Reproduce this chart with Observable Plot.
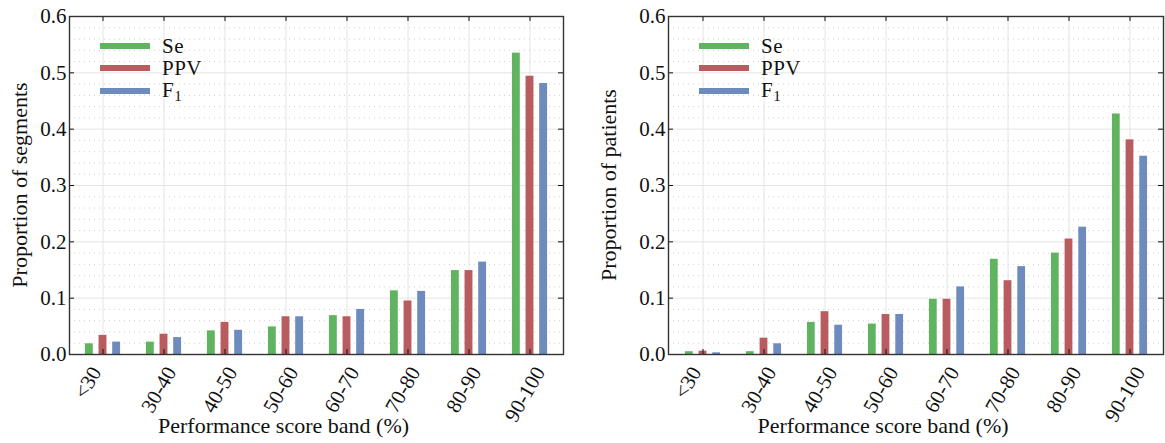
<!DOCTYPE html>
<html><head><meta charset="utf-8">
<script src="https://cdn.jsdelivr.net/npm/d3@7"></script>
<script src="https://cdn.jsdelivr.net/npm/@observablehq/plot@0.6"></script>
<style>
body{margin:0;background:#fff;}
#wrap{position:relative;width:1165px;height:443px;font-family:"Liberation Serif",serif;overflow:hidden;}
.panel{position:absolute;top:0;}
.leg{position:absolute;font-size:21px;line-height:20px;letter-spacing:0.5px;color:#111;white-space:nowrap;}
.sw{position:absolute;height:6px;width:50px;}
.ylab{position:absolute;font-size:22px;line-height:22px;color:#111;white-space:nowrap;transform:translate(-50%,-50%) rotate(-90deg);}
</style></head><body><div id="wrap"></div>
<script>
// ---- data ----
const categories = ["<30", "30-40", "40-50", "50-60", "60-70", "70-80", "80-90", "90-100"];
const seriesNames = ["Se", "PPV", "F1"];
const colors = ["#60b460", "#b85c5f", "#6d8bbd"];
const yTicks = [0, 0.1, 0.2, 0.3, 0.4, 0.5, 0.6];
const yMinorTicks = [0.02,0.04,0.06,0.08,0.12,0.14,0.16,0.18,0.22,0.24,0.26,0.28,0.32,0.34,0.36,0.38,0.42,0.44,0.46,0.48,0.52,0.54,0.56,0.58];
const xLabel = "Performance score band (%)";

// Left: proportion of segments
const segSe  = [0.019, 0.022, 0.042, 0.049, 0.069, 0.113, 0.149, 0.535];
const segPPV = [0.034, 0.036, 0.057, 0.067, 0.067, 0.095, 0.149, 0.494];
const segF1  = [0.022, 0.030, 0.043, 0.067, 0.080, 0.112, 0.164, 0.481];

// Right: proportion of patients
const patSe  = [0.005, 0.005, 0.057, 0.054, 0.098, 0.169, 0.180, 0.427];
const patPPV = [0.006, 0.029, 0.076, 0.071, 0.098, 0.131, 0.205, 0.381];
const patF1  = [0.003, 0.019, 0.052, 0.071, 0.120, 0.156, 0.226, 0.352];

const FONT = '"Liberation Serif", serif';
const FS = 21;
const ctx = document.createElement("canvas").getContext("2d");
ctx.font = `${FS}px "Liberation Serif"`;
const textW = s => ctx.measureText(s).width;

function panel({se, ppv, f1, width, marginLeft, marginRight}) {
  const marginTop = 16, marginBottom = 89, height = 443;
  const plotW = width - marginLeft - marginRight, plotH = height - marginTop - marginBottom;
  const step = plotW / categories.length;
  const barW = 0.14 * step, inset = (step - barW) / 2, off = 0.221 * step;
  const rows = vals => categories.map((c, i) => ({cat: c, v: vals[i]}));
  const bars = [[se, colors[0], -off], [ppv, colors[1], 0], [f1, colors[2], off]].map(([vals, col, dx]) =>
    Plot.barY(rows(vals), {x: "cat", y: "v", fill: col, insetLeft: inset, insetRight: inset, dx}));
  // rotated tick labels, each label's box centred near its tick
  const tickLabels = categories.map(c =>
    Plot.text([c], {x: d => d, text: d => d, frameAnchor: "bottom", rotate: -60, textAnchor: "end", lineAnchor: "middle",
      dx: 0.25 * textW(c) - 5 - (c.startsWith("<") ? 10 : 0), dy: 14, fontSize: FS, fontFamily: FONT}));
  return Plot.plot({
    width, height, marginLeft, marginRight, marginTop, marginBottom,
    style: `font-family: ${FONT}; font-size: ${FS}px; background: white; color: #111; overflow: visible;`,
    x: {type: "band", domain: categories, padding: 0, axis: null},
    y: {domain: [0, 0.6], axis: null},
    marks: [
      Plot.ruleY(yMinorTicks, {stroke: "#cfcfcf", strokeDasharray: "1,4"}),
      Plot.ruleY(yTicks, {stroke: "#e4e4e4"}),
      Plot.ruleX(categories, {x: d => d, stroke: "#e4e4e4"}),
      ...bars,
      Plot.ruleX(categories, {x: d => d, stroke: "#111", insetTop: plotH - 5}),
      Plot.ruleX(categories, {x: d => d, stroke: "#111", insetBottom: plotH - 5}),
      Plot.ruleY(yTicks, {stroke: "#111", insetRight: plotW - 5}),
      Plot.ruleY(yTicks, {stroke: "#111", insetLeft: plotW - 5}),
      Plot.frame({stroke: "#333", strokeWidth: 1.4}),
      Plot.axisY(yTicks, {tickSize: 0, tickPadding: 3, tickFormat: d3.format(".1f"), label: null, fontSize: FS, fontFamily: FONT}),
      ...tickLabels,
      Plot.text([xLabel], {frameAnchor: "bottom", dx: -33, dy: 71, lineAnchor: "middle", fontSize: 22, fontFamily: FONT})
    ]
  });
}

const wrap = document.getElementById("wrap");
const configs = [
  {se: segSe, ppv: segPPV, f1: segF1, ylabel: "Proportion of segments", width: 583, marginLeft: 69, marginRight: 20, ylabelX: 20, left: 0, legX: 100},
  {se: patSe, ppv: patPPV, f1: patF1, ylabel: "Proportion of patients", width: 582, marginLeft: 85, marginRight: 2, ylabelX: 609, left: 583, legX: 699}
];
const legY = [46, 68.3, 90.8];
for (const cfg of configs) {
  const svg = panel(cfg);
  const div = document.createElement("div");
  div.className = "panel";
  div.style.left = cfg.left + "px";
  div.appendChild(svg);
  wrap.appendChild(div);
  const yl = document.createElement("div");
  yl.className = "ylab";
  yl.style.left = cfg.ylabelX + "px";
  yl.style.top = "185px";
  yl.textContent = cfg.ylabel;
  wrap.appendChild(yl);
  seriesNames.forEach((name, i) => {
    const sw = document.createElement("div");
    sw.className = "sw";
    sw.style.left = cfg.legX + "px";
    sw.style.top = (legY[i] - 3) + "px";
    sw.style.background = colors[i];
    wrap.appendChild(sw);
    const lb = document.createElement("div");
    lb.className = "leg";
    lb.style.left = (cfg.legX + 62) + "px";
    lb.style.top = (legY[i] - 10.5) + "px";
    if (name === "F1") {
      lb.innerHTML = 'F<span style="font-size:15px;position:relative;top:4px">1</span>';
    } else {
      lb.textContent = name;
    }
    wrap.appendChild(lb);
  });
}
</script></body></html>
